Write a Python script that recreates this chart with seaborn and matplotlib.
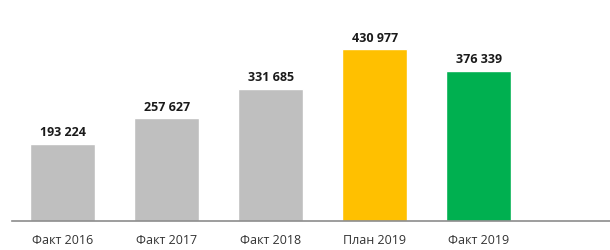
import pandas as pd
import matplotlib.pyplot as plt
import seaborn as sns

# Chart data
categories = ["Факт 2016", "Факт 2017", "Факт 2018", "План 2019", "Факт 2019"]
values = [193224, 257627, 331685, 430977, 376339]
colors = ["#BFBFBF", "#BFBFBF", "#BFBFBF", "#FFC000", "#00B050"]

df = pd.DataFrame({"cat": categories, "val": values})

sns.set_style("white")
plt.rcParams["font.family"] = ["Open Sans", "DejaVu Sans"]

fig = plt.figure(figsize=(6.1, 2.51), dpi=100)
ax = fig.add_axes([0.02, 0.116, 0.98, 0.884])

sns.barplot(data=df, x="cat", y="val", hue="cat", palette=colors,
            legend=False, width=0.625, saturation=1, ax=ax)

for cont in ax.containers:
    ax.bar_label(cont, labels=[f"{v:,.0f}".replace(",", " ") for v in cont.datavalues],
                 padding=4, fontsize=9, fontweight="bold", color="#1a1a1a")

ax.set_xlim(-0.486, 5.26)
ax.set_ylim(0, 557000)
ax.set_xlabel("")
ax.set_ylabel("")
ax.set_yticks([])
ax.tick_params(axis="x", length=0, pad=9, labelsize=9, labelcolor="#333333")
for s in ["top", "right", "left"]:
    ax.spines[s].set_visible(False)
ax.spines["bottom"].set_color("#8C8C8C")
ax.spines["bottom"].set_linewidth(1.2)

fig.savefig("out.png", dpi=100)
